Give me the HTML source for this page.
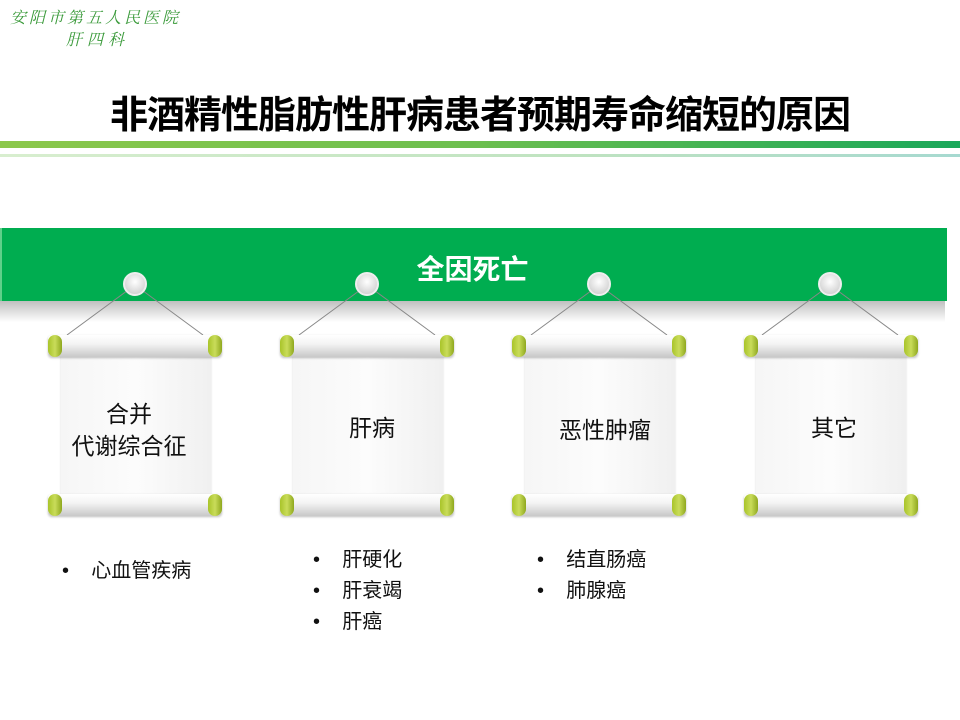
<!DOCTYPE html>
<html><head><meta charset="utf-8"><style>
body{margin:0;width:960px;height:720px;background:#fff;position:relative;overflow:hidden;font-family:"Liberation Sans","Noto Sans CJK SC",sans-serif}
.a{position:absolute}
.roll{position:absolute;height:22px;border-radius:4px;background:linear-gradient(#fff 0%,#f4f4f4 40%,#c8c8c8 100%);box-shadow:0 1px 2px rgba(0,0,0,.25)}
.cap{position:absolute;width:14px;height:22px;border-radius:7px;background:linear-gradient(90deg,#a9c42a,#c9dc5a 50%,#8fa81e);top:0}
.paper{position:absolute;background:linear-gradient(90deg,#f6f6f6,#fcfcfc 50%,#f0f0f0);box-shadow:0 0 2px rgba(0,0,0,.15)}
.t{position:absolute;font-size:23px;color:#111;text-align:center;line-height:32px}
.b{position:absolute;font-size:20px;color:#111}
</style></head><body>
<div class="a" style="left:10px;top:5px;color:#3a9a3a;font-family:'Noto Serif CJK SC',serif;font-size:16px;font-style:italic;letter-spacing:3px">安阳市第五人民医院</div>
<div class="a" style="left:66px;top:27px;color:#3a9a3a;font-family:'Noto Serif CJK SC',serif;font-size:16px;font-style:italic;letter-spacing:5px">肝四科</div>
<div class="a" style="left:0;width:960px;top:84px;text-align:center;font-size:38px;font-weight:bold;color:#000;letter-spacing:-1px">非酒精性脂肪性肝病患者预期寿命缩短的原因</div>
<div class="a" style="left:0;top:141px;width:960px;height:7px;background:linear-gradient(90deg,#8cc84b,#6cbf4f 50%,#1aa85a)"></div>
<div class="a" style="left:0;top:154px;width:960px;height:3px;background:linear-gradient(90deg,#d8eecf,#bfe3c0 60%,#a6d9d0)"></div>
<div class="a" style="left:0;top:300px;width:945px;height:22px;background:linear-gradient(#bdbdbd,#fff)"></div>
<div class="a" style="left:0;top:228px;width:945px;height:73px;background:#00ad50;border-left:2px solid #5fd08a"></div>
<div class="a" style="left:0;width:945px;top:248px;text-align:center;color:#fff;font-size:28px;font-weight:bold">全因死亡</div>
<svg class="a" style="left:0;top:0" width="960" height="720">
<g stroke="#888" stroke-width="1" fill="none">
<path d="M135 285L67 335M135 285L203 335M367 285L299 335M367 285L435 335M599 285L531 335M599 285L667 335M830 285L762 335M830 285L898 335"/>
</g>
<defs><radialGradient id="p" cx="50%" cy="40%" r="60%"><stop offset="0" stop-color="#fff"/><stop offset="1" stop-color="#cfcfcf"/></radialGradient></defs>
<g fill="url(#p)" stroke="#eee" stroke-width="2"><circle cx="135" cy="284" r="11"/><circle cx="367" cy="284" r="11"/><circle cx="599" cy="284" r="11"/><circle cx="830" cy="284" r="11"/></g>
</svg>
<div class="paper" style="left:61px;top:350px;width:150px;height:150px"></div>
<div class="roll" style="left:48px;top:335px;width:174px"><div class="cap" style="left:0"></div><div class="cap" style="right:0"></div></div>
<div class="roll" style="left:48px;top:494px;width:174px"><div class="cap" style="left:0"></div><div class="cap" style="right:0"></div></div>
<div class="paper" style="left:293px;top:350px;width:150px;height:150px"></div>
<div class="roll" style="left:280px;top:335px;width:174px"><div class="cap" style="left:0"></div><div class="cap" style="right:0"></div></div>
<div class="roll" style="left:280px;top:494px;width:174px"><div class="cap" style="left:0"></div><div class="cap" style="right:0"></div></div>
<div class="paper" style="left:525px;top:350px;width:150px;height:150px"></div>
<div class="roll" style="left:512px;top:335px;width:174px"><div class="cap" style="left:0"></div><div class="cap" style="right:0"></div></div>
<div class="roll" style="left:512px;top:494px;width:174px"><div class="cap" style="left:0"></div><div class="cap" style="right:0"></div></div>
<div class="paper" style="left:756px;top:350px;width:150px;height:150px"></div>
<div class="roll" style="left:744px;top:335px;width:174px"><div class="cap" style="left:0"></div><div class="cap" style="right:0"></div></div>
<div class="roll" style="left:744px;top:494px;width:174px"><div class="cap" style="left:0"></div><div class="cap" style="right:0"></div></div>
<div class="t" style="left:29px;width:200px;top:398px">合并<br>代谢综合征</div>
<div class="t" style="left:272px;width:200px;top:412px">肝病</div>
<div class="t" style="left:505px;width:200px;top:414px">恶性肿瘤</div>
<div class="t" style="left:734px;width:200px;top:412px">其它</div>
<div class="b" style="left:62px;top:554px">•&nbsp;&nbsp;&nbsp;&nbsp;心血管疾病</div>
<div class="b" style="left:313px;top:545px;line-height:31px">•&nbsp;&nbsp;&nbsp;&nbsp;肝硬化<br>•&nbsp;&nbsp;&nbsp;&nbsp;肝衰竭<br>•&nbsp;&nbsp;&nbsp;&nbsp;肝癌</div>
<div class="b" style="left:537px;top:545px;line-height:31px">•&nbsp;&nbsp;&nbsp;&nbsp;结直肠癌<br>•&nbsp;&nbsp;&nbsp;&nbsp;肺腺癌</div>
</body></html>
